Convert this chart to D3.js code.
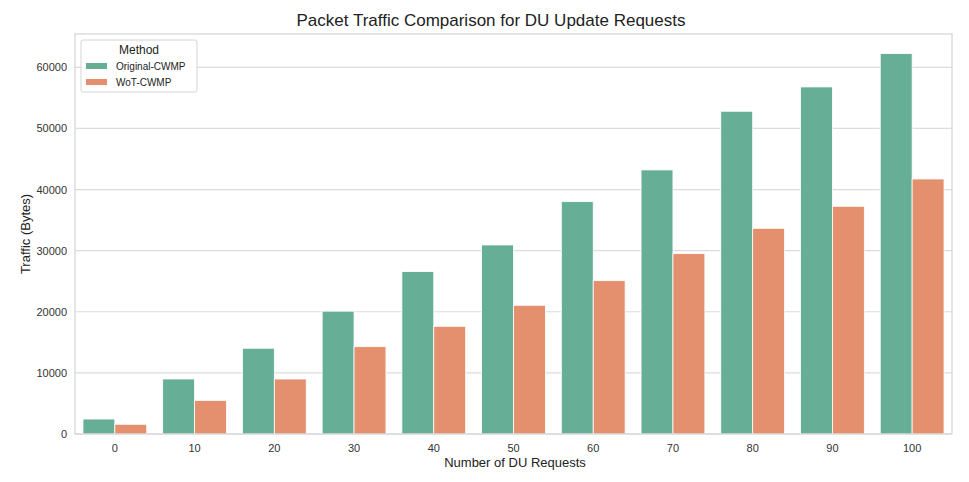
<!DOCTYPE html>
<html>
<head>
<meta charset="utf-8">
<script src="https://cdn.jsdelivr.net/npm/d3@7"></script>
<style>
	body { margin: 0; background: #fff; }
	svg { font-family: "Liberation Sans", Arial, sans-serif; }
	.grid line { stroke: #dcdcdc; stroke-width: 1.2; }
	.tick text { fill: #333; font-size: 11px; }
</style>
</head>
<body>
<svg id="chart" width="969" height="482"></svg>
<script>
	// data
	var requests = ["0", "10", "20", "30", "40", "50", "60", "70", "80", "90", "100"];
	var methods = ["Original-CWMP", "WoT-CWMP"];
	var originalCwmp = [2450, 9000, 14030, 20100, 26570, 30930, 38020, 43210, 52810, 56790, 62240];
	var wotCwmp = [1590, 5500, 9000, 14290, 17620, 21060, 25090, 29510, 33660, 37260, 41730];
	var yTicks = [0, 10000, 20000, 30000, 40000, 50000, 60000];
	var colors = ["#67ae96", "#e48f6e"];

	var svg = d3.select("#chart");
	var mLeft = 75, mRight = 952, mTop = 34, mBottom = 434;

	var x = d3.scaleBand().domain(requests).range([mLeft, mRight]).padding(0);
	var hue = d3.scaleBand().domain(methods).range([0, x.bandwidth() * 0.8]);
	var y = d3.scaleLinear().domain([0, 65450]).range([mBottom, mTop]);

	// grid
	svg.append("g").attr("class", "grid")
		.selectAll("line").data(yTicks).enter().append("line")
		.attr("x1", mLeft).attr("x2", mRight)
		.attr("y1", function(d){ return y(d); })
		.attr("y2", function(d){ return y(d); });

	// bars
	var series = [originalCwmp, wotCwmp];
	series.forEach(function(vals, si){
		svg.append("g").selectAll("rect").data(vals).enter().append("rect")
			.attr("x", function(d, i){ return x(requests[i]) + x.bandwidth() * 0.1 + hue(methods[si]); })
			.attr("y", function(d){ return y(d); })
			.attr("width", hue.bandwidth())
			.attr("height", function(d){ return mBottom - y(d); })
			.style("fill", colors[si])
			.style("stroke", "#fff")
			.style("stroke-width", 0.8);
	});

	// frame
	svg.append("rect")
		.attr("x", mLeft).attr("y", mTop)
		.attr("width", mRight - mLeft).attr("height", mBottom - mTop)
		.style("fill", "none").style("stroke", "#d4d4d4").style("stroke-width", 1.2);

	// axes
	var xAxis = svg.append("g").attr("transform", "translate(0," + mBottom + ")")
		.call(d3.axisBottom(x).tickSize(0).tickPadding(10));
	xAxis.select(".domain").remove();

	var yAxis = svg.append("g").attr("transform", "translate(" + mLeft + ",0)")
		.call(d3.axisLeft(y).tickValues(yTicks).tickSize(0).tickPadding(8).tickFormat(d3.format("d")));
	yAxis.select(".domain").remove();

	// labels
	svg.append("text")
		.attr("x", 491).attr("y", 26)
		.attr("text-anchor", "middle")
		.style("font-size", "17px").style("fill", "#222")
		.text("Packet Traffic Comparison for DU Update Requests");

	svg.append("text")
		.attr("x", 515).attr("y", 467)
		.attr("text-anchor", "middle")
		.style("font-size", "13px").style("fill", "#222")
		.text("Number of DU Requests");

	svg.append("text")
		.attr("transform", "translate(30," + ((mTop + mBottom) / 2) + ") rotate(-90)")
		.attr("text-anchor", "middle")
		.style("font-size", "13px").style("fill", "#222")
		.text("Traffic (Bytes)");

	// legend
	var legend = svg.append("g").attr("transform", "translate(81,40)");
	legend.append("rect")
		.attr("width", 116).attr("height", 52).attr("rx", 2)
		.style("fill", "#fff").style("fill-opacity", 0.85)
		.style("stroke", "#d4d4d4").style("stroke-width", 1);
	legend.append("text")
		.attr("x", 58).attr("y", 14)
		.attr("text-anchor", "middle")
		.style("font-size", "12px").style("fill", "#222")
		.text("Method");
	methods.forEach(function(m, i){
		legend.append("rect")
			.attr("x", 5).attr("y", 23 + i * 16)
			.attr("width", 21).attr("height", 6)
			.style("fill", colors[i]);
		legend.append("text")
			.attr("x", 35).attr("y", 30 + i * 16)
			.style("font-size", "10px").style("fill", "#222")
			.text(m);
	});
</script>
</body>
</html>
